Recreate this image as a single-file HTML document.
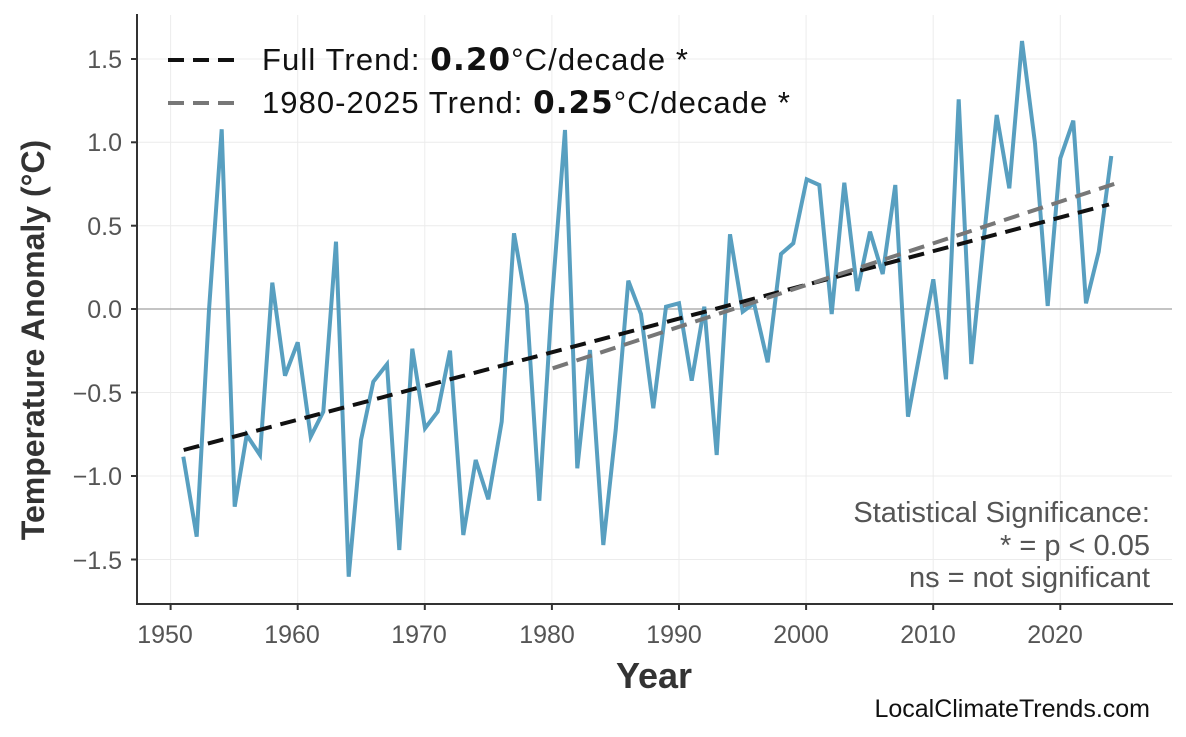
<!DOCTYPE html>
<html><head><meta charset="utf-8"><style>
html,body{margin:0;padding:0;background:#fff;}
svg{display:block;font-family:"Liberation Sans",Arial,sans-serif;}
</style></head><body>
<svg width="1186" height="737" viewBox="0 0 1186 737" xmlns="http://www.w3.org/2000/svg">
<rect width="1186" height="737" fill="#fff"/>
<g stroke="#ececec" stroke-width="1">
<line x1="138" x2="1172" y1="59" y2="59"/><line x1="138" x2="1172" y1="142.3" y2="142.3"/><line x1="138" x2="1172" y1="225.7" y2="225.7"/><line x1="138" x2="1172" y1="392.5" y2="392.5"/><line x1="138" x2="1172" y1="476" y2="476"/><line x1="138" x2="1172" y1="559.5" y2="559.5"/>
<line y1="15" y2="603" x1="170.6" x2="170.6"/><line y1="15" y2="603" x1="297.7" x2="297.7"/><line y1="15" y2="603" x1="424.8" x2="424.8"/><line y1="15" y2="603" x1="551.9" x2="551.9"/><line y1="15" y2="603" x1="679" x2="679"/><line y1="15" y2="603" x1="806.1" x2="806.1"/><line y1="15" y2="603" x1="933.2" x2="933.2"/><line y1="15" y2="603" x1="1060.3" x2="1060.3"/>
</g>
<line x1="138" x2="1172" y1="309" y2="309" stroke="#b0b0b0" stroke-width="1.5"/>
<polyline fill="none" stroke="#4f9abd" stroke-opacity="0.95" stroke-width="4" stroke-linejoin="miter" points="183.3,456.7 196.7,536.7 209,310 221.7,129.3 234.7,506.7 246.7,435 260,455 272.3,282.7 285,375.7 297.7,342.3 310.7,436.7 323.3,411.7 336,241.7 348.7,576.7 361,440 373.3,381.7 387,364.3 399.3,550 412.3,348.7 425,428.3 437.7,411.7 450,350.7 463.3,535 475.7,460 488.3,499.3 501.7,421.7 514,233.3 526.7,305 539.3,500.7 552,300 565,130 577.3,468.3 590,350 603.3,545 615.7,430 628.3,280.7 641,314 653.3,408.3 666,306.7 679,303.3 691.7,380.7 704.3,306.7 716.7,455 730,234.3 742.7,311.7 754,303.3 767.7,362.3 781,254 793.3,243.3 806.7,179.3 819.3,185 831.7,314 844.3,182.7 857.3,291 870,231.7 882.7,274 895.3,185 908,416.7 920.7,348 933.3,279.3 946,379.3 958.7,99.3 971.3,364 984,236.7 996.7,115 1009.3,188.3 1022,41 1035,143.3 1047.7,306 1060.3,158.3 1073.3,120.7 1086,303.3 1098.7,251.7 1111.3,156"/>
<line x1="183.7" y1="450" x2="1109" y2="204.5" stroke="#111" stroke-width="4" stroke-dasharray="16,9"/>
<line x1="552.7" y1="368.3" x2="1121" y2="181.7" stroke="#777" stroke-width="4" stroke-dasharray="16,9"/>
<g stroke="#333" stroke-width="2">
<line x1="137" y1="14" x2="137" y2="605"/><line x1="136" y1="604" x2="1173" y2="604"/>
<line x1="131" x2="137" y1="59" y2="59"/><line x1="131" x2="137" y1="142.3" y2="142.3"/><line x1="131" x2="137" y1="225.7" y2="225.7"/><line x1="131" x2="137" y1="309" y2="309"/><line x1="131" x2="137" y1="392.5" y2="392.5"/><line x1="131" x2="137" y1="476" y2="476"/><line x1="131" x2="137" y1="559.5" y2="559.5"/>
<line y1="604" y2="610" x1="170.6" x2="170.6"/><line y1="604" y2="610" x1="297.7" x2="297.7"/><line y1="604" y2="610" x1="424.8" x2="424.8"/><line y1="604" y2="610" x1="551.9" x2="551.9"/><line y1="604" y2="610" x1="679" x2="679"/><line y1="604" y2="610" x1="806.1" x2="806.1"/><line y1="604" y2="610" x1="933.2" x2="933.2"/><line y1="604" y2="610" x1="1060.3" x2="1060.3"/>
</g>
<g fill="#555" font-size="25" text-anchor="end">
<text x="122" y="68">1.5</text><text x="122" y="151">1.0</text><text x="122" y="235">0.5</text><text x="122" y="318">0.0</text><text x="122" y="402">−0.5</text><text x="122" y="485">−1.0</text><text x="122" y="569">−1.5</text>
</g>
<g fill="#555" font-size="25" text-anchor="middle">
<text x="165" y="643">1950</text><text x="292" y="643">1960</text><text x="419" y="643">1970</text><text x="547" y="643">1980</text><text x="674" y="643">1990</text><text x="801" y="643">2000</text><text x="928" y="643">2010</text><text x="1055" y="643">2020</text>
</g>
<text x="654" y="688" font-size="36" font-weight="bold" fill="#333" text-anchor="middle">Year</text>
<text transform="translate(44,340) rotate(-90)" font-size="32" font-weight="bold" fill="#333" text-anchor="middle">Temperature Anomaly (°C)</text>
<line x1="168" y1="60" x2="235" y2="60" stroke="#111" stroke-width="4" stroke-dasharray="16,9"/>
<line x1="168" y1="103" x2="235" y2="103" stroke="#777" stroke-width="4" stroke-dasharray="16,9"/>
<text x="262" y="70" font-size="31" fill="#111" textLength="426" lengthAdjust="spacing">Full Trend: <tspan font-weight="bold" font-family="DejaVu Sans">0.20</tspan>°C/decade *</text>
<text x="262" y="113" font-size="31" fill="#111" textLength="528" lengthAdjust="spacing">1980-2025 Trend: <tspan font-weight="bold" font-family="DejaVu Sans">0.25</tspan>°C/decade *</text>
<g fill="#555" font-size="29" text-anchor="end">
<text x="1150" y="522">Statistical Significance:</text><text x="1150" y="555">* = p &lt; 0.05</text><text x="1150" y="587">ns = not significant</text>
</g>
<text x="1150" y="717" font-size="25" fill="#111" text-anchor="end">LocalClimateTrends.com</text>
</svg>
</body></html>
